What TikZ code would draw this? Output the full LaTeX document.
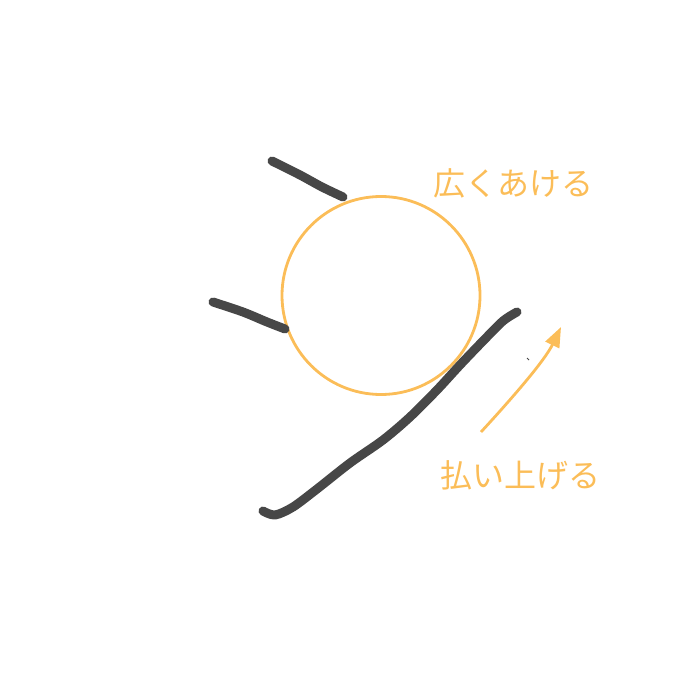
\documentclass[tikz,border=0pt]{standalone}
\usepackage{fontspec}
\newfontfamily\jpfont{Noto Sans CJK JP}
\usetikzlibrary{arrows.meta}
\definecolor{guide}{HTML}{FBBD58}
\definecolor{ink}{HTML}{474747}
\begin{document}
\begin{tikzpicture}[x=1pt,y=-1pt,
  inkstroke/.style={draw=ink,line width=9pt,line cap=round,line join=round},
  guidetext/.style={text=guide,font=\jpfont\fontsize{32}{36}\selectfont,inner sep=0pt},
  guideline/.style={draw=guide,line width=2.8pt}]
\useasboundingbox (0,0) rectangle (700,700);
% circle
\node[guideline,circle,minimum size=198pt,inner sep=0pt] (ring) at (381,295.5) {};
% strokes
\draw[inkstroke] plot[smooth,tension=0.5] coordinates {(272,161) (300,175) (322,187) (343,197)};
\draw[inkstroke] plot[smooth,tension=0.5] coordinates {(213,302) (243,312) (267,322) (285,329)};
\draw[inkstroke] plot[smooth,tension=0.5] coordinates {(263,511) (275,515) (293,507) (317,489) (350,463) (383,440) (410,417) (437,390) (460,365) (483,341) (503,321) (517,312)};
\draw[ink,line width=1pt] (527,358) -- (529,360);
% labels
\node[guidetext] (wide) at (513,183) {広くあける};
\node[guidetext] (sweep) at (520,475) {払い上げる};
% arrow
\coordinate (a0) at (481,432);
\coordinate (a1) at (561,327);
\draw[guide,line width=2.8pt,-{Triangle[length=20pt,width=15pt]}] (a0) .. controls (515,395) and (545,360) .. (a1);
\end{tikzpicture}
\end{document}
